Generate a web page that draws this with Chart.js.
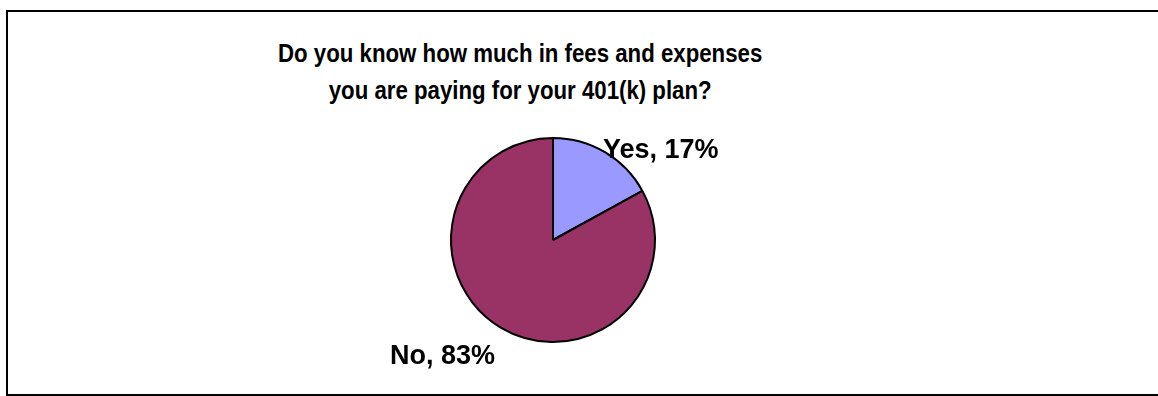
<!DOCTYPE html>
<html>
<head>
<meta charset="utf-8">
<script src="https://cdn.jsdelivr.net/npm/chart.js@4.4.1/dist/chart.umd.min.js"></script>
<style>
  html, body {
    margin: 0;
    padding: 0;
    background: #fff;
    overflow: hidden;
  }
  .frame {
    position: absolute;
    left: 6px;
    top: 10px;
    width: 1170px;
    height: 386px;
    border: 2px solid #000;
    box-sizing: border-box;
  }
  .title {
    position: absolute;
    left: 0;
    top: 35px;
    width: 1040px;
    text-align: center;
  }
  .title span {
    display: inline-block;
    font: bold 26px "Liberation Sans", Arial, sans-serif;
    line-height: 37px;
    color: #000;
    transform: scaleX(0.855);
    transform-origin: 50% 50%;
  }
  .chart-box {
    position: absolute;
    left: 0;
    top: 0;
    width: 1158px;
    height: 396px;
  }
</style>
</head>
<body>
<div class="frame"></div>
<div class="title"><span>Do you know how much in fees and expenses<br>you are paying for your 401(k) plan?</span></div>
<div class="chart-box"><canvas id="chart"></canvas></div>
<script>
const CATEGORIES = ['Yes', 'No'];
const SHARES = [17, 83];
const SLICE_COLORS = ['#9999ff', '#993366'];

// Outside labels "Name, NN%" placed from the rim at each slice's mid angle
const sliceLabels = {
  id: 'sliceLabels',
  afterDatasetsDraw(chart, args, opts) {
    const { ctx } = chart;
    const meta = chart.getDatasetMeta(0);
    const total = SHARES.reduce((sum, value) => sum + value, 0);

    ctx.save();
    ctx.font = opts.font;
    ctx.fillStyle = '#000';
    ctx.textBaseline = 'alphabetic';

    meta.data.forEach((arc, index) => {
      const mid = (arc.startAngle + arc.endAngle) / 2;
      const shift = opts.shifts[index] || [0, 0];
      const x = arc.x + Math.cos(mid) * arc.outerRadius + shift[0];
      const y = arc.y + Math.sin(mid) * arc.outerRadius + shift[1];
      const pct = Math.round((SHARES[index] / total) * 100);

      ctx.textAlign = Math.cos(mid) >= 0 ? 'left' : 'right';
      ctx.fillText(`${CATEGORIES[index]}, ${pct}%`, x, y);
    });

    ctx.restore();
  },
};

new Chart(document.getElementById('chart'), {
  type: 'pie',
  data: {
    labels: CATEGORIES,
    datasets: [{
      data: SHARES,
      backgroundColor: SLICE_COLORS,
      borderColor: '#000',
      borderWidth: 2,
      hoverOffset: 0,
    }],
  },
  options: {
    responsive: true,
    maintainAspectRatio: false,
    animation: false,
    layout: {
      padding: { left: 450, right: 502, top: 137, bottom: 53 },
    },
    plugins: {
      legend: { display: false },
      tooltip: { enabled: false },
      title: { display: false },
      sliceLabels: {
        font: 'bold 27px "Liberation Sans", Arial, sans-serif',
        shifts: [[-2, 6], [-6, 36]],
      },
    },
  },
  plugins: [sliceLabels],
});
</script>
</body>
</html>
